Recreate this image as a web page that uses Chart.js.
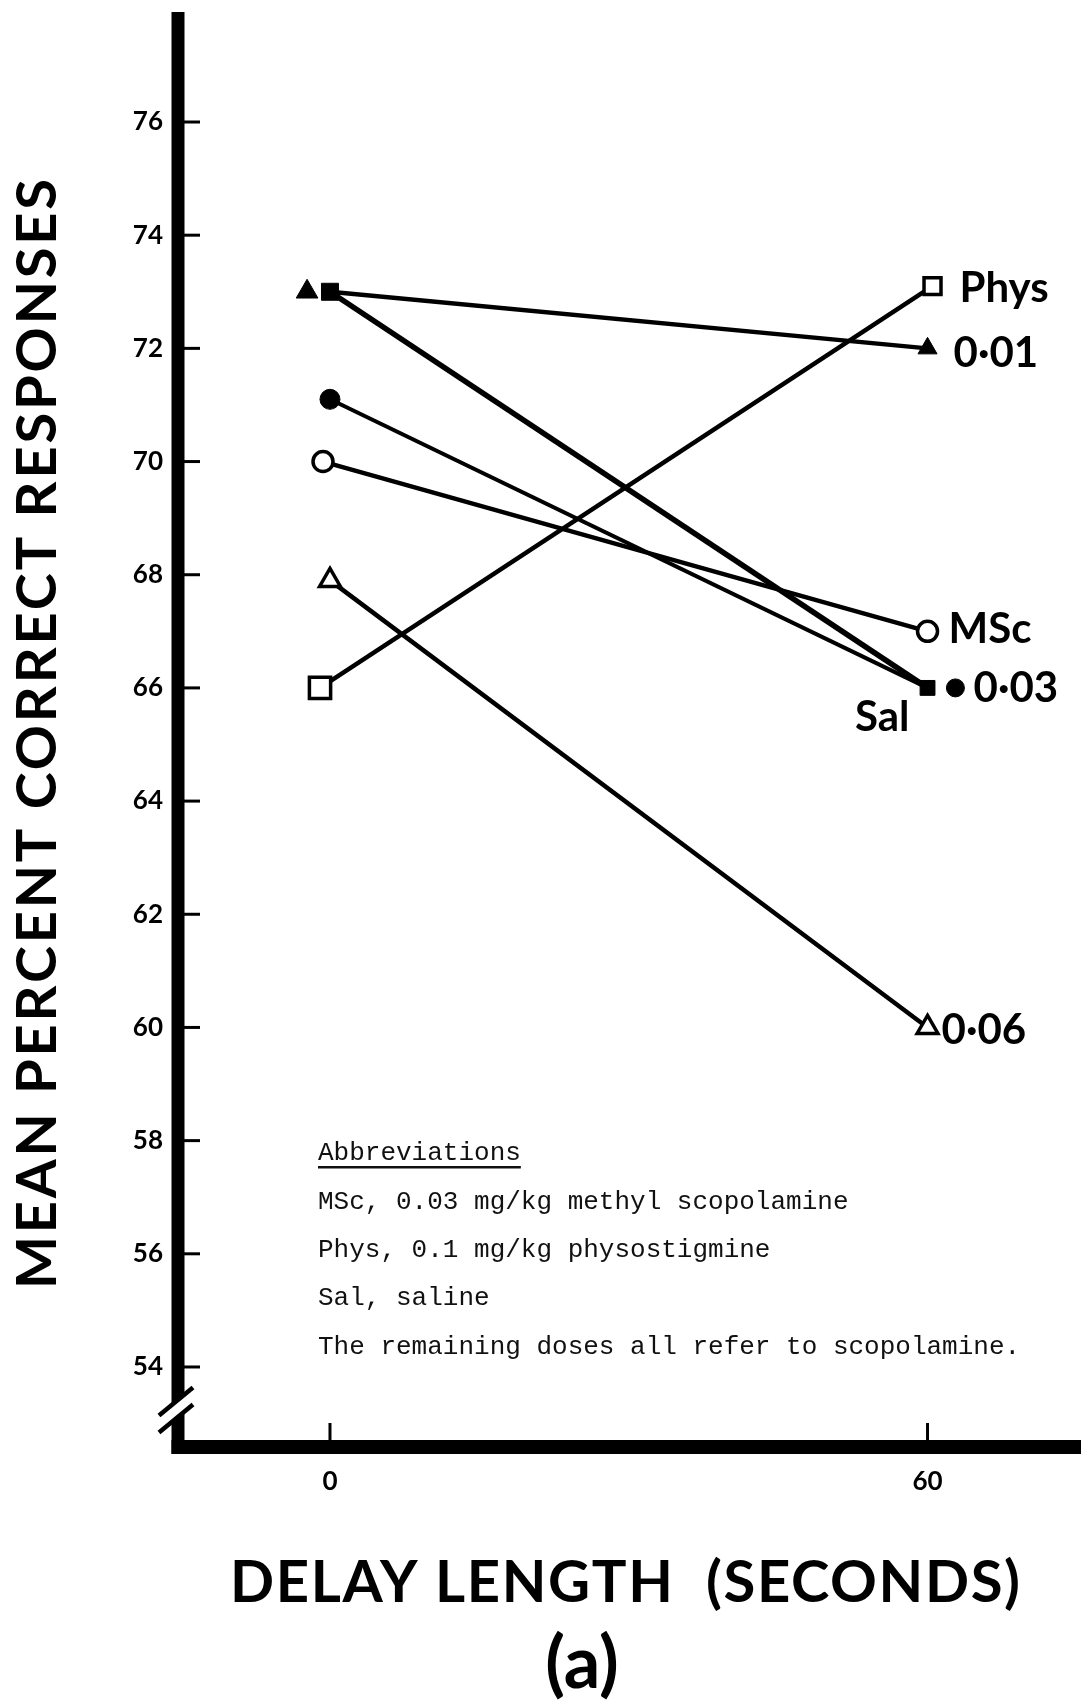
<!DOCTYPE html>
<html>
<head>
<meta charset="utf-8">
<title>Mean percent correct responses by delay length</title>
<script src="https://cdn.jsdelivr.net/npm/chart.js@4"></script>
<style>
  html, body { margin: 0; padding: 0; background: #fff; }
  #grafik { display: block; }
</style>
</head>
<body>
<canvas id="grafik" width="1081" height="1706"></canvas>
<script>
// delay length (seconds) and axis ticks
const delays = [0, 60];
const xTickValues = [0, 60];
const yTickValues = [54, 56, 58, 60, 62, 64, 66, 68, 70, 72, 74, 76];

// mean percent correct responses at 0 s and 60 s
const physValues = [66, 73.1];
const dose001Values = [73, 72];
const mscValues = [70, 67];
const dose003Values = [71.1, 66];
const salValues = [73, 66];
const dose006Values = [67.9, 60];

// where a symbol sits a little off its delay (drawn to the side in the original)
const physDelays = [-1, 60.5];
const mscDelays = [-0.7, 60];
const dose001SymbolDelay = -2.3;
const dose003SymbolDelay = 62.8;

const seriesLabels = ['Phys', '0·01', 'MSc', '0·03', 'Sal', '0·06'];

const abbreviationTitle = 'Abbreviations';
const abbreviations = [
  'MSc, 0.03 mg/kg methyl scopolamine',
  'Phys, 0.1 mg/kg physostigmine',
  'Sal, saline',
  'The remaining doses all refer to scopolamine.'
];

const yTitle = 'MEAN PERCENT CORRECT RESPONSES';
const xTitle = 'DELAY LENGTH  (SECONDS)';
const panelTag = '(a)';

const SANS = 'Lato, "DejaVu Sans", sans-serif';
const MONO = '"Liberation Mono", "DejaVu Sans Mono", monospace';

function titik(xs, ys) {
  return ys.map((v, i) => ({ x: xs[i], y: v }));
}

// label position beside the 60 s end of each series
const letakLabel = [
  { end: physValues[1], dx: 32, dy: 1, align: 'left' },
  { end: dose001Values[1], dx: 26, dy: 4, align: 'left' },
  { end: mscValues[1], dx: 21, dy: -3, align: 'left' },
  { end: dose003Values[1], dx: 46, dy: -1, align: 'left' },
  { end: salValues[1], dx: -18, dy: 28, align: 'right' },
  { end: dose006Values[1], dx: 14, dy: 1, align: 'left' }
];

function teksLebar(ctx, text, cx, cy, size, width, weight) {
  // draw caps text centred on (cx, cy), stretched by letter spacing to a width
  ctx.font = `${weight} ${size}px ${SANS}`;
  ctx.letterSpacing = '0px';
  const w = ctx.measureText(text).width;
  const target = width || w;
  const sp = Math.max(0, (target - w) / (text.length - 1));
  ctx.letterSpacing = sp + 'px';
  ctx.textAlign = 'left';
  ctx.textBaseline = 'alphabetic';
  ctx.fillText(text, cx - target / 2, cy + size * 0.36);
  ctx.letterSpacing = '0px';
}

function tanpaPadding(s) {
  s.paddingTop = 0;
  s.paddingBottom = 0;
  s.paddingLeft = 0;
  s.paddingRight = 0;
}

const gambarPaksi = {
  id: 'gambarPaksi',
  beforeDatasetsDraw(chart) {
    const { ctx, chartArea: a, scales: { x, y } } = chart;
    ctx.save();
    ctx.strokeStyle = '#000';
    ctx.lineCap = 'butt';

    ctx.lineWidth = 13;
    ctx.beginPath();
    ctx.moveTo(a.left, a.top);
    ctx.lineTo(a.left, a.bottom + 7);
    ctx.stroke();

    ctx.lineWidth = 14;
    ctx.beginPath();
    ctx.moveTo(a.left - 6.5, a.bottom);
    ctx.lineTo(a.right, a.bottom);
    ctx.stroke();

    // ticks point into the plot
    ctx.lineWidth = 3;
    y.ticks.forEach((t, i) => {
      const py = y.getPixelForTick(i);
      ctx.beginPath();
      ctx.moveTo(a.left + 6, py);
      ctx.lineTo(a.left + 22, py);
      ctx.stroke();
    });
    x.ticks.forEach((t, i) => {
      const px = x.getPixelForTick(i);
      ctx.beginPath();
      ctx.moveTo(px, a.bottom - 7);
      ctx.lineTo(px, a.bottom - 24);
      ctx.stroke();
    });

    // axis break below 54
    const by = y.getPixelForValue(53.24);
    const bx = a.left - 2;
    const hx = 17, hy = 14, gap = 8.5;
    ctx.fillStyle = '#fff';
    ctx.beginPath();
    ctx.moveTo(bx - hx, by - gap + hy);
    ctx.lineTo(bx + hx, by - gap - hy);
    ctx.lineTo(bx + hx, by + gap - hy);
    ctx.lineTo(bx - hx, by + gap + hy);
    ctx.closePath();
    ctx.fill();
    ctx.lineWidth = 4.5;
    [-gap, gap].forEach(g => {
      ctx.beginPath();
      ctx.moveTo(bx - hx, by + g + hy);
      ctx.lineTo(bx + hx, by + g - hy);
      ctx.stroke();
    });
    ctx.restore();
  },
  afterDraw(chart) {
    const { ctx, scales: { x, y } } = chart;
    ctx.save();
    ctx.fillStyle = '#000';

    // series labels
    ctx.font = `bold 42px ${SANS}`;
    ctx.textBaseline = 'alphabetic';
    seriesLabels.forEach((lbl, i) => {
      const p = letakLabel[i];
      ctx.textAlign = p.align;
      ctx.fillText(lbl, x.getPixelForValue(delays[1]) + p.dx,
        y.getPixelForValue(p.end) + p.dy + 42 * 0.36);
    });

    // axis titles
    ctx.save();
    ctx.translate(36, 734);
    ctx.rotate(-Math.PI / 2);
    teksLebar(ctx, yTitle, 0, 0, 56, 1110, 'bold');
    ctx.restore();
    teksLebar(ctx, xTitle, 625, 1581, 58, 790, 'bold');
    teksLebar(ctx, panelTag, 582, 1662, 72, 0, 'bold');

    // abbreviations note
    ctx.fillStyle = '#111';
    ctx.font = `26px ${MONO}`;
    ctx.textAlign = 'left';
    ctx.textBaseline = 'middle';
    ctx.fillText(abbreviationTitle, 318, 1153);
    const w = ctx.measureText(abbreviationTitle).width;
    ctx.fillRect(318, 1166, w, 2.5);
    abbreviations.forEach((t, i) => ctx.fillText(t, 318, 1202 + i * 48.3));
    ctx.restore();
  }
};

const garis = { borderColor: '#000', showLine: true, borderWidth: 4.5, pointBorderColor: '#000' };

const datasets = [
  Object.assign({}, garis, {
    label: 'MSc', data: titik(mscDelays, mscValues),
    pointStyle: 'circle', pointRadius: 10, pointBorderWidth: 3.5, pointBackgroundColor: '#fff'
  }),
  Object.assign({}, garis, {
    label: 'Phys', data: titik(physDelays, physValues),
    pointStyle: 'rect', pointRadius: [15, 12], pointBorderWidth: 3.5, pointBackgroundColor: '#fff'
  }),
  Object.assign({}, garis, {
    label: '0·06', data: titik(delays, dose006Values),
    pointStyle: 'triangle', pointRadius: 12, pointBorderWidth: 3.5, pointBackgroundColor: '#fff'
  }),
  Object.assign({}, garis, {
    label: '0·01', data: titik(delays, dose001Values),
    pointStyle: 'triangle', pointRadius: [0, 11], pointBorderWidth: 1, pointBackgroundColor: '#000'
  }),
  Object.assign({}, garis, {
    label: '0·01 symbol', data: [{ x: dose001SymbolDelay, y: dose001Values[0] }], showLine: false,
    pointStyle: 'triangle', pointRadius: 12.5, pointBorderWidth: 1, pointBackgroundColor: '#000'
  }),
  Object.assign({}, garis, {
    label: '0·03', data: titik(delays, dose003Values), borderWidth: 4,
    pointStyle: 'circle', pointRadius: [10, 0], pointBorderWidth: 1, pointBackgroundColor: '#000'
  }),
  Object.assign({}, garis, {
    label: '0·03 symbol', data: [{ x: dose003SymbolDelay, y: dose003Values[1] }], showLine: false,
    pointStyle: 'circle', pointRadius: 9, pointBorderWidth: 1, pointBackgroundColor: '#000'
  }),
  Object.assign({}, garis, {
    label: 'Sal', data: titik(delays, salValues), borderWidth: 5.5,
    pointStyle: 'rect', pointRadius: [12, 10.5], pointBorderWidth: 1, pointBackgroundColor: '#000'
  })
];

const tickFont = { family: SANS, size: 26, weight: 'bold' };

new Chart(document.getElementById('grafik'), {
  type: 'scatter',
  data: { datasets },
  options: {
    responsive: false,
    animation: false,
    events: [],
    layout: { autoPadding: false, padding: { top: 12, right: 0, bottom: 0, left: 0 } },
    plugins: { legend: { display: false }, tooltip: { enabled: false } },
    scales: {
      x: {
        type: 'linear', min: -15.26, max: 75.41,
        afterBuildTicks: s => { s.ticks = xTickValues.map(v => ({ value: v })); },
        afterFit: s => { s.height = 259; tanpaPadding(s); },
        grid: { display: false, drawTicks: false },
        border: { display: false },
        ticks: { color: '#000', font: tickFont, padding: 19, autoSkip: false, maxRotation: 0 }
      },
      y: {
        type: 'linear', min: 52.586, max: 77.944,
        afterBuildTicks: s => { s.ticks = yTickValues.map(v => ({ value: v })); },
        afterFit: s => { s.width = 178; tanpaPadding(s); },
        grid: { display: false, drawTicks: false },
        border: { display: false },
        ticks: { color: '#000', font: tickFont, padding: 15, autoSkip: false }
      }
    }
  },
  plugins: [gambarPaksi]
});
</script>
</body>
</html>
